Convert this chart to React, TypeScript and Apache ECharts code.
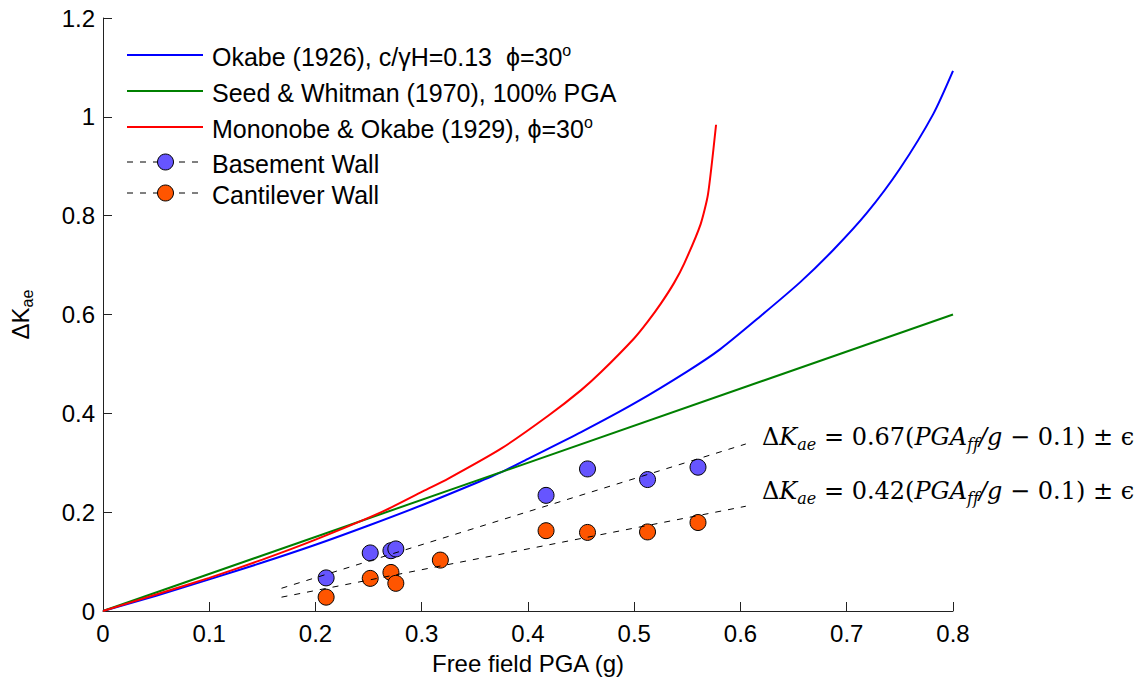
import React, { useEffect, useRef } from 'react';
import * as echarts from 'echarts';

// ---- data ----
const okabeX = [0, 0.05, 0.1, 0.15, 0.2, 0.25, 0.3, 0.35, 0.375, 0.4, 0.45, 0.5, 0.55, 0.581, 0.619, 0.656, 0.6875, 0.71875, 0.75, 0.78125, 0.8];
const okabeY = [0, 0.031, 0.064, 0.098, 0.134, 0.173, 0.214, 0.258, 0.281, 0.308, 0.362, 0.42, 0.485, 0.53, 0.597, 0.665, 0.731, 0.805, 0.895, 1.005, 1.093];

const seedX = [0, 0.8];
const seedY = [0, 0.6];

const monoX = [0, 0.05, 0.1, 0.15, 0.2, 0.2625, 0.3, 0.325, 0.375, 0.419, 0.45, 0.469, 0.5, 0.5125, 0.525, 0.5375, 0.547, 0.5625, 0.5694, 0.577];
const monoY = [0, 0.0335, 0.067, 0.104, 0.1444, 0.2005, 0.241, 0.268, 0.329, 0.395, 0.447, 0.484, 0.552, 0.585, 0.622, 0.664, 0.703, 0.783, 0.843, 0.984];

const basementX = [0.21, 0.2515, 0.271, 0.2756, 0.417, 0.456, 0.5125, 0.56];
const basementY = [0.067, 0.1175, 0.122, 0.1256, 0.234, 0.2875, 0.266, 0.291];

const cantileverX = [0.21, 0.2515, 0.271, 0.2756, 0.3175, 0.417, 0.456, 0.5125, 0.56];
const cantileverY = [0.028, 0.066, 0.078, 0.056, 0.103, 0.1625, 0.159, 0.16, 0.179];

const fitX = [0.168, 0.605];
const fitUpperY = [0.046, 0.338];
const fitLowerY = [0.028, 0.212];

const xTicks = [0, 0.1, 0.2, 0.3, 0.4, 0.5, 0.6, 0.7, 0.8];
const yTicks = [0, 0.2, 0.4, 0.6, 0.8, 1, 1.2];

const legendLabels = [
  'Okabe (1926), c/γH=0.13  ϕ=30',
  'Seed & Whitman (1970), 100% PGA',
  'Mononobe & Okabe (1929), ϕ=30',
  'Basement Wall',
  'Cantilever Wall',
];
const fitLabels = ['0.67', '0.42'];

const zip = (xs: number[], ys: number[]) => xs.map((x, i) => [x, ys[i]]);

const SANS = '"Liberation Sans", Arial, Helvetica, sans-serif';
const SERIF = '"DejaVu Serif", "Liberation Serif", serif';

export default function App() {
  const ref = useRef<HTMLDivElement>(null);
  useEffect(() => {
    if (!ref.current) return;
    const chart = echarts.init(ref.current, undefined, { renderer: 'svg' });

    const gridLeft = 100, gridTop = 18, gridRight = 188, gridBottom = 67;
    const fs = 24;

    const rowY = [55, 91, 127, 162, 193];
    const lx1 = 127, lx2 = 203, tx = 212;
    const colors = ['#0000ff', '#008000', '#ff0000'];
    const markerColors = ['#6655ff', '#ff5500'];
    const graphics: any[] = [];
    for (let i = 0; i < 3; i++) {
      graphics.push({
        type: 'line', shape: { x1: lx1, y1: rowY[i], x2: lx2, y2: rowY[i] },
        style: { stroke: colors[i], lineWidth: 2 }, silent: true,
      });
    }
    for (let i = 0; i < 2; i++) {
      const y = rowY[3 + i];
      graphics.push({
        type: 'line', shape: { x1: lx1, y1: y, x2: lx2, y2: y },
        style: { stroke: '#000', lineWidth: 1, lineDash: [6, 7] }, silent: true,
      });
      graphics.push({
        type: 'circle', shape: { cx: 165.5, cy: y, r: 8 },
        style: { fill: markerColors[i], stroke: '#000', lineWidth: 1 }, silent: true,
      });
    }
    const richLegend = {
      n: { fontFamily: SANS, fontSize: 25, lineHeight: 30, fill: '#000' },
      sup: { fontFamily: SANS, fontSize: 16, lineHeight: 16, verticalAlign: 'top', fill: '#000' },
    };
    legendLabels.forEach((lab, i) => {
      const withSup = i === 0 || i === 2;
      graphics.push({
        type: 'text', x: tx, y: rowY[i] + 2, silent: true,
        style: {
          text: withSup ? `{n|${lab}}{sup|o}` : `{n|${lab}}`,
          rich: richLegend, verticalAlign: 'middle', align: 'left',
        },
      });
    });

    const richFormula = {
      n: { fontFamily: SERIF, fontSize: 24, lineHeight: 30, fill: '#000' },
      i: { fontFamily: SERIF, fontSize: 24, fontStyle: 'italic', lineHeight: 30, fill: '#000' },
      s: { fontFamily: SERIF, fontSize: 16, fontStyle: 'italic', lineHeight: 16, verticalAlign: 'bottom', fill: '#000' },
    };
    const fy = [437, 491];
    fitLabels.forEach((c, i) => {
      graphics.push({
        type: 'text', x: 762, y: fy[i], silent: true,
        style: {
          text: `{n|Δ}{i|K}{s|ae}{n| = ${c}(}{i|PGA}{s|f}{s|f}{i|/g}{n| − 0.1) ± ϵ}`,
          rich: richFormula, verticalAlign: 'middle', align: 'left',
        },
      });
    });

    const fmt = (v: number) => String(+v.toFixed(1));

    chart.setOption({
      animation: false,
      backgroundColor: '#fff',
      grid: { left: gridLeft, top: gridTop, right: gridRight, bottom: gridBottom, containLabel: false },
      xAxis: {
        type: 'value', min: 0, max: 0.8, interval: 0.1,
        name: 'Free field PGA (g)', nameLocation: 'middle', nameGap: 40,
        nameTextStyle: { fontFamily: SANS, fontSize: fs, color: '#000' },
        axisLine: { show: true, onZero: false, lineStyle: { color: '#222', width: 1 } },
        axisTick: { show: true, inside: true, length: 9, lineStyle: { color: '#222' } },
        axisLabel: {
          fontFamily: SANS, fontSize: fs, color: '#000', margin: 10,
          formatter: (v: number) => (xTicks.some((t) => Math.abs(t - v) < 1e-9) ? fmt(v) : ''),
        },
        splitLine: { show: false },
      },
      yAxis: {
        type: 'value', min: 0, max: 1.2, interval: 0.2,
        name: '{n|Δ}{n|K}{s|ae}', nameLocation: 'middle', nameGap: 68, nameRotate: 90,
        nameTextStyle: {
          rich: {
            n: { fontFamily: SANS, fontSize: fs, lineHeight: 30, color: '#000' },
            s: { fontFamily: SANS, fontSize: 16, lineHeight: 16, verticalAlign: 'bottom', color: '#000' },
          },
        },
        axisLine: { show: true, onZero: false, lineStyle: { color: '#222', width: 1 } },
        axisTick: { show: true, inside: true, length: 9, lineStyle: { color: '#222' } },
        axisLabel: {
          fontFamily: SANS, fontSize: fs, color: '#000', margin: 8,
          formatter: (v: number) => (yTicks.some((t) => Math.abs(t - v) < 1e-9) ? fmt(v) : ''),
        },
        splitLine: { show: false },
      },
      series: [
        {
          name: 'Okabe', type: 'line', data: zip(okabeX, okabeY), showSymbol: false,
          smooth: 0.25,
          lineStyle: { color: '#0000ff', width: 2 }, z: 3,
        },
        {
          name: 'Seed', type: 'line', data: zip(seedX, seedY), showSymbol: false,
          lineStyle: { color: '#008000', width: 2 }, z: 3,
        },
        {
          name: 'Mononobe', type: 'line', data: zip(monoX, monoY), showSymbol: false,
          smooth: 0.2,
          lineStyle: { color: '#ff0000', width: 2 }, z: 3,
        },
        {
          name: 'Basement Wall', type: 'scatter', data: zip(basementX, basementY),
          symbolSize: 16, itemStyle: { color: '#6655ff', borderColor: '#000', borderWidth: 1, opacity: 1 }, z: 2,
        },
        {
          name: 'Cantilever Wall', type: 'scatter', data: zip(cantileverX, cantileverY),
          symbolSize: 16, itemStyle: { color: '#ff5500', borderColor: '#000', borderWidth: 1, opacity: 1 }, z: 2,
        },
        {
          name: 'fit upper', type: 'line', data: zip(fitX, fitUpperY), showSymbol: false,
          lineStyle: { color: '#000', width: 1, type: [6, 7] }, z: 4,
        },
        {
          name: 'fit lower', type: 'line', data: zip(fitX, fitLowerY), showSymbol: false,
          lineStyle: { color: '#000', width: 1, type: [6, 7] }, z: 4,
        },
      ],
      graphic: graphics,
    });
    return () => chart.dispose();
  }, []);
  return (
    <div
      ref={ref}
      style={{ position: 'absolute', left: 0, top: 0, width: 1141, height: 680, background: '#fff' }}
    />
  );
}
